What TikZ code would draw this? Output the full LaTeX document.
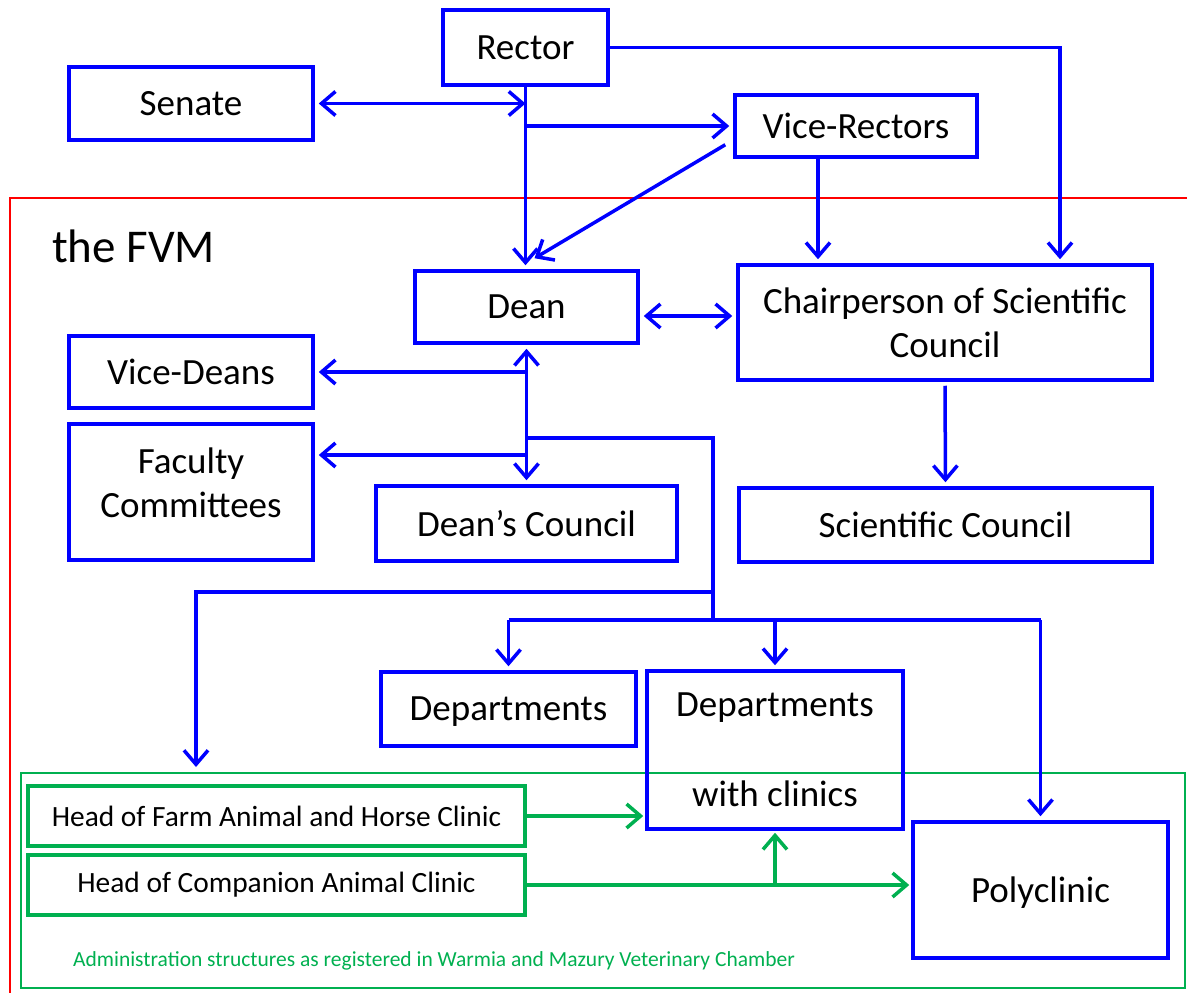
\documentclass[tikz,border=0pt]{standalone}
\usepackage{fontspec}
\setmainfont{Carlito}
\usetikzlibrary{arrows.meta}
\definecolor{ogreen}{RGB}{0,176,80}

\begin{document}
\begin{tikzpicture}[x=1pt, y=-1pt,
    box/.style={draw=blue, line width=3.5pt, align=center, inner sep=0pt, font=\fontsize{37}{44}\selectfont},
    sbox/.style={box, text depth=0pt},
    gbox/.style={draw=ogreen, line width=4pt, inner sep=0pt, font=\fontsize{29.4}{35}\selectfont},
    link/.style={blue, line width=3.5pt},
    arr/.style={link, -{Straight Barb[length=14pt, width=24pt]}, shorten >=4pt},
    darr/.style={link, {Straight Barb[length=14pt, width=24pt]}-{Straight Barb[length=14pt, width=24pt]}, shorten <=4pt, shorten >=4pt},
    garr/.style={ogreen, line width=3.5pt, -{Straight Barb[length=14pt, width=24pt]}, shorten >=2pt}]
    \useasboundingbox (0,0) rectangle (1187,993);

    % Frames
    \draw[red, line width=2pt] (1195,198) -- (10,198) -- (10,1000);
    \draw[ogreen, line width=2.5pt] (21,773) rectangle (1185,988);
    \node[font=\fontsize{47}{56}\selectfont, anchor=west, inner sep=0pt] (fvm) at (52,246) {the FVM};
    \node[ogreen, font=\fontsize{21.5}{25}\selectfont, anchor=west, inner sep=0pt] (note) at (73,961) {Administration structures as registered in Warmia and Mazury Veterinary Chamber};

    % University level
    \node[sbox, minimum width=165pt, minimum height=75pt] (rector) at (525.5,47.5) {Rector};
    \node[sbox, minimum width=244pt, minimum height=73pt] (senate) at (191,103.5) {Senate};
    \node[sbox, minimum width=242pt, minimum height=62pt] (vrect) at (856,126) {Vice-Rectors};

    % Faculty level
    \node[sbox, minimum width=223pt, minimum height=72pt] (dean) at (526.5,307) {Dean};
    \node[box, minimum width=414pt, minimum height=115pt] (chair) at (945,322.5) {Chairperson of Scientific\\Council};
    \node[sbox, minimum width=244pt, minimum height=72pt] (vdean) at (191,372) {Vice-Deans};
    \node[box, minimum width=244pt, minimum height=136pt, text depth=18pt] (fcom) at (191,492) {Faculty\\Committees};
    \node[sbox, minimum width=301pt, minimum height=75pt] (dcoun) at (526.5,523.5) {Dean’s Council};
    \node[sbox, minimum width=413pt, minimum height=74pt] (scoun) at (945.5,525) {Scientific Council};
    \node[sbox, minimum width=255pt, minimum height=74pt] (dep) at (508.5,709) {Departments};
    \node[box, minimum width=256pt, minimum height=158pt] (depc) at (775,750) {Departments\\[46pt]with clinics};
    \node[sbox, minimum width=255pt, minimum height=136pt] (poly) at (1040.5,890) {Polyclinic};

    % Clinics
    \node[gbox, minimum width=497pt, minimum height=60pt] (farm) at (276.5,816) {Head of Farm Animal and Horse Clinic};
    \node[gbox, minimum width=497pt, minimum height=60pt] (comp) at (276.5,885) {Head of Companion Animal Clinic};

    % Rector connectors
    \coordinate (rsen) at (rector.south |- senate.east);
    \coordinate (vrin) at ([shift={(-8,-14)}]vrect.south west);
    \coordinate (vrc) at ([xshift=-38pt]vrect.south);
    \draw[arr] (rector.east) -| ([xshift=115pt]chair.north);
    \draw[arr] (rector.south) -- (rector.south |- dean.north);
    \draw[darr, shorten >=0pt] (senate.east) -- (rsen);
    \draw[arr] (rector.south |- vrect.west) -- (vrect.west);
    \draw[arr, shorten >=0pt] (vrin) -- ([shift={(8,-11)}]dean.north);
    \draw[arr] (vrc) -- (vrc |- chair.north);

    % Dean connectors
    \coordinate (dch) at ([yshift=-9pt]dean.east);
    \coordinate (fcin) at ([yshift=37pt]fcom.east);
    \draw[darr] (dch) -- (dch -| chair.west);
    \draw[arr, shorten <=4pt] (chair.south) -- (scoun.north);
    \draw[darr] (dean.south) -- (dcoun.north);
    \draw[arr] (dean.south |- vdean.east) -- (vdean.east);
    \draw[arr] (dean.south |- fcin) -- (fcin);

    % Branch to departments and clinics
    \coordinate (br) at (713,438);
    \coordinate (fork) at (713,592);
    \coordinate (bar) at (713,620);
    \coordinate (clin) at (196,767);
    \draw[link] (dean.south |- br) -- (br) -- (bar);
    \draw[arr, shorten >=0pt] (fork) -| (clin);
    \draw[link] (dep.north |- bar) -- (poly.north |- bar);
    \foreach \n in {dep,depc,poly} {
        \draw[arr] (\n.north |- bar) -- (\n.north);
    }

    % Clinic heads
    \draw[garr] (farm.east) -- (farm.east -| depc.west);
    \draw[garr] (comp.east) -- (comp.east -| poly.west);
    \draw[garr] (depc.south |- comp.east) -- (depc.south);
\end{tikzpicture}
\end{document}
